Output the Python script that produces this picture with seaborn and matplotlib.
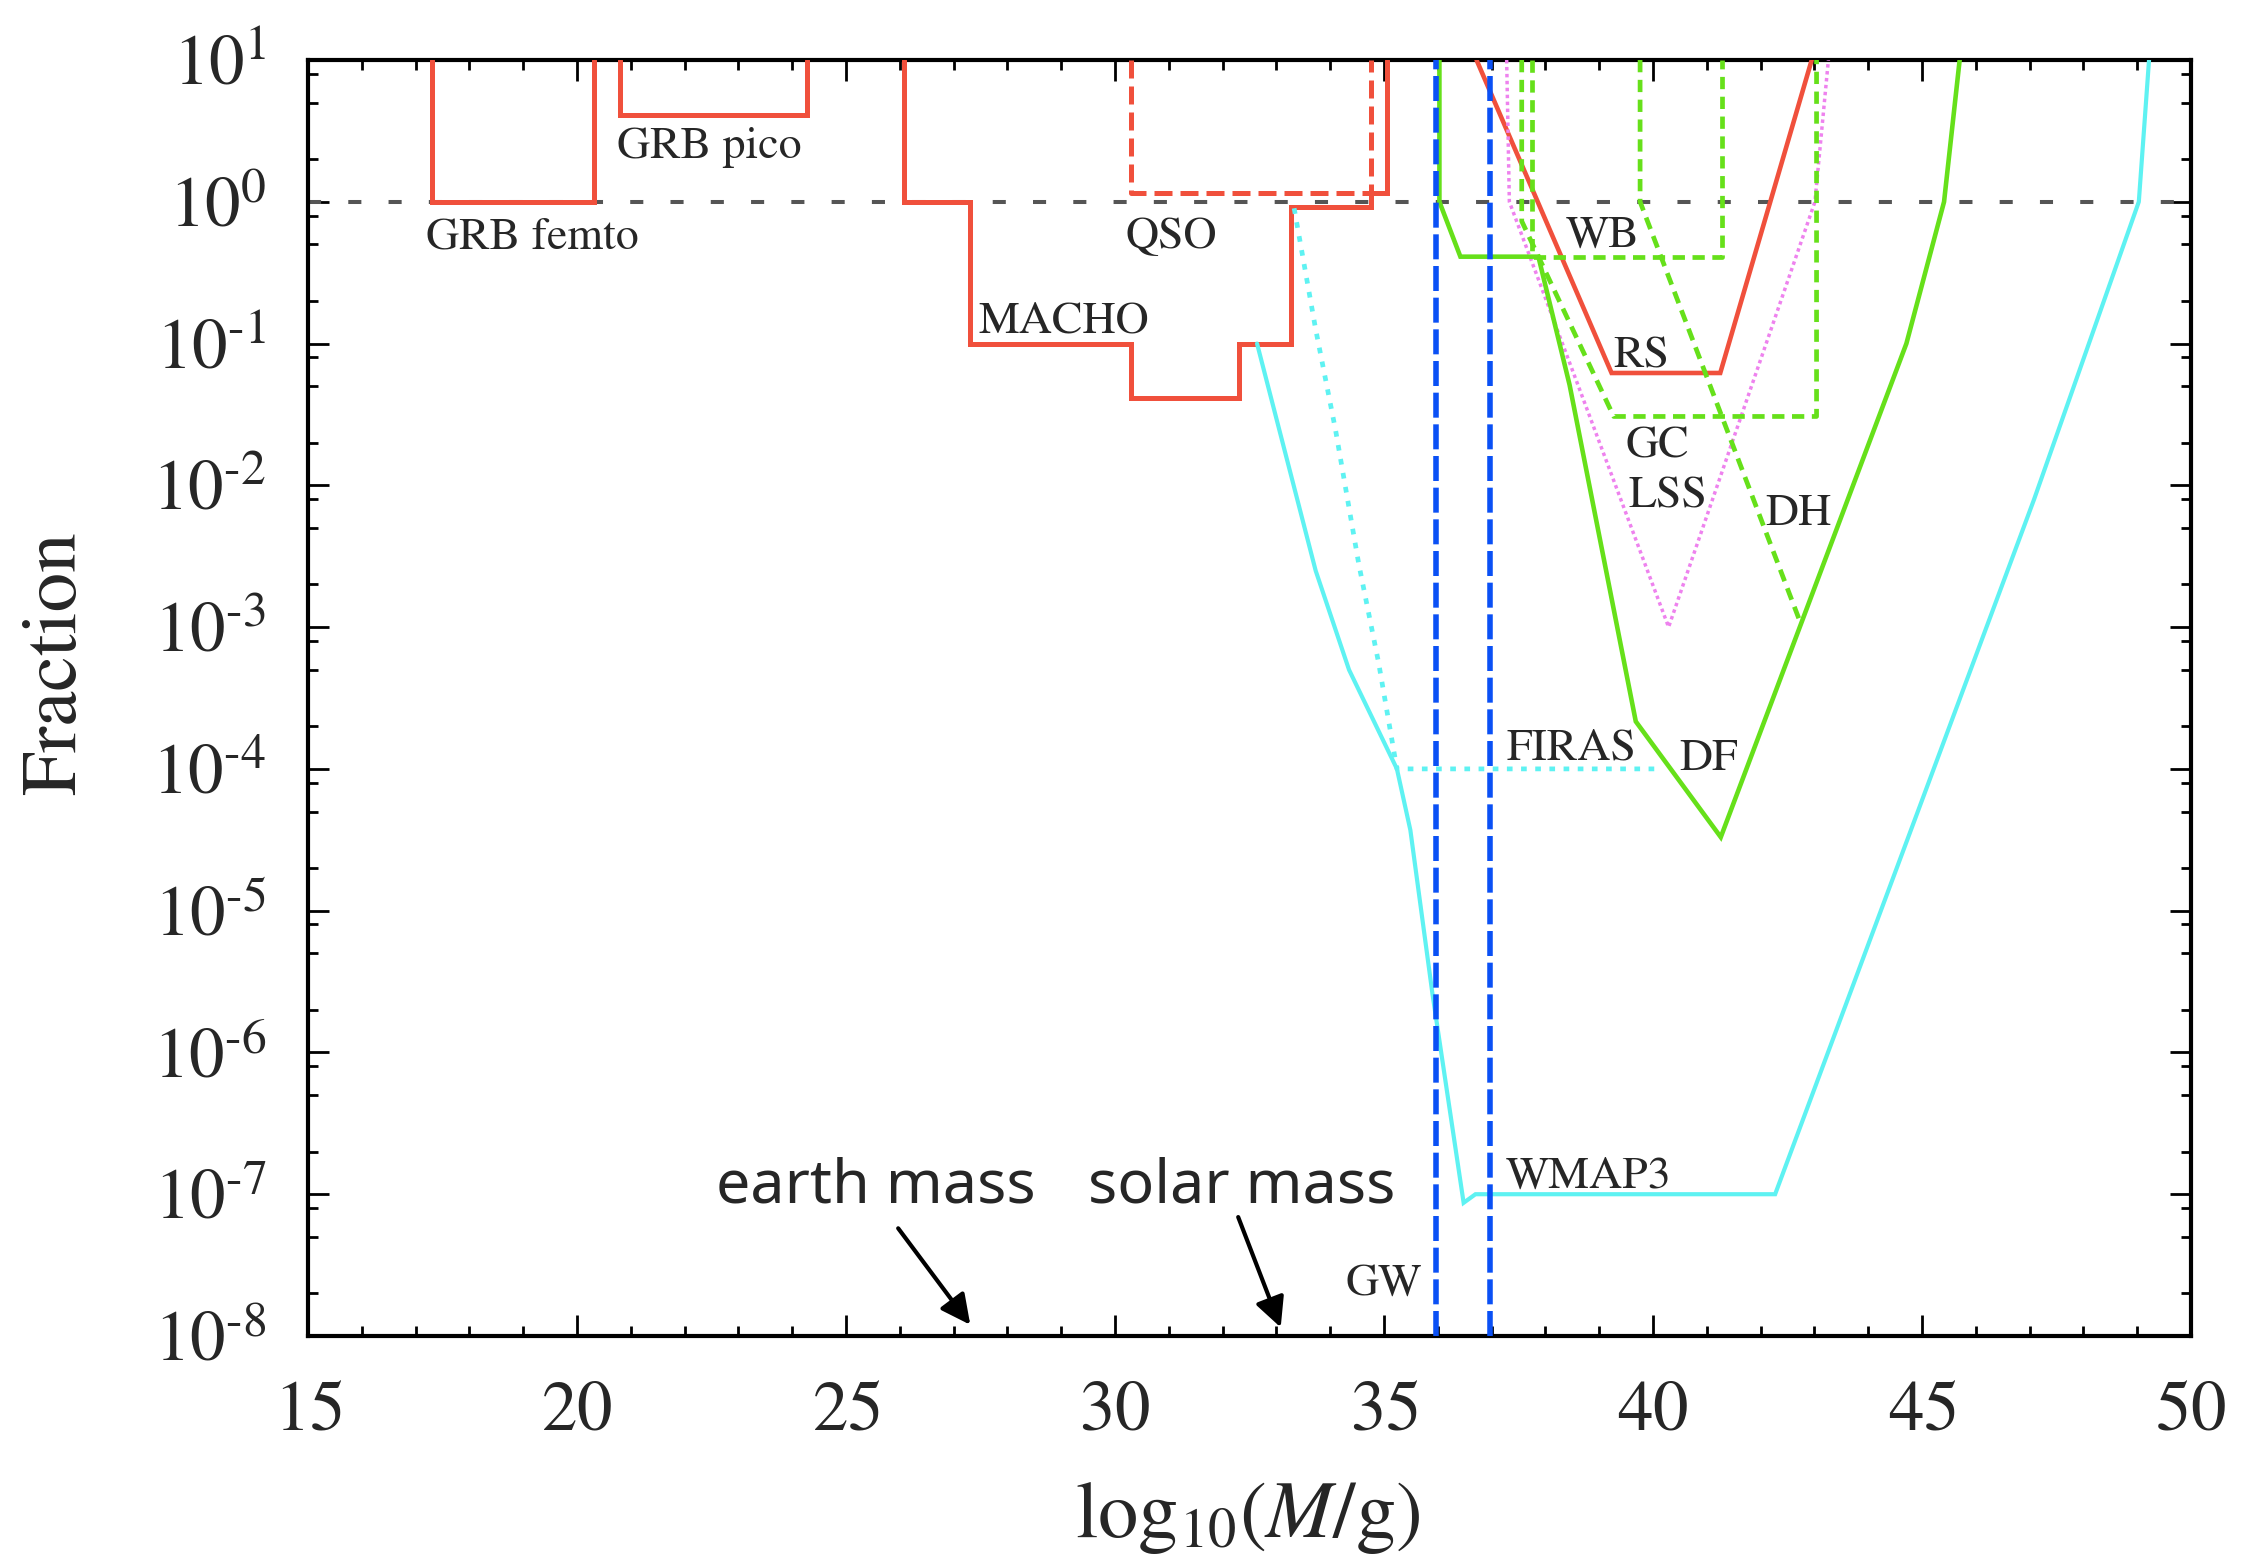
import matplotlib
matplotlib.use("Agg")
import matplotlib.pyplot as plt
from matplotlib.ticker import MultipleLocator, LogLocator, FixedLocator, NullFormatter
import seaborn as sns

# ---- constraint curves: log10(M/g) vs. fraction ----
grb_femto_m = [17.30, 17.30, 20.31, 20.31]
grb_femto_f = [10, 1.0, 1.0, 10]

grb_pico_m = [20.80, 20.80, 24.28, 24.28]
grb_pico_f = [10, 4.1, 4.1, 10]

macho_m = [26.07, 26.07, 27.30, 27.30, 30.29, 30.29, 32.30, 32.30,
           33.28, 33.28, 34.75, 34.75, 35.06, 35.06]
macho_f = [10, 1.0, 1.0, 0.1, 0.1, 0.041, 0.041, 0.1,
           0.1, 0.92, 0.92, 1.15, 1.15, 10]

qso_m = [30.29, 30.29, 34.75, 34.75]
qso_f = [10, 1.15, 1.15, 10]

rs_m = [36.72, 39.23, 41.25, 42.95]
rs_f = [10, 0.062, 0.062, 10]

df_m = [36.03, 36.03, 36.42, 37.87, 38.45, 39.68, 41.26, 44.71, 45.41, 45.70]
df_f = [10, 1.0, 0.41, 0.41, 0.051, 2.16e-4, 3.3e-5, 0.1, 1.0, 10]

wb_m = [37.75, 37.75, 41.28, 41.28]
wb_f = [10, 0.41, 0.41, 10]

gc_m = [37.56, 37.56, 39.27, 43.04, 43.04]
gc_f = [10, 0.73, 0.0306, 0.0306, 10]

dh_m = [39.76, 39.76, 42.73]
dh_f = [10, 1.0, 1.1e-3]

lss_m = [37.28, 37.33, 40.29, 43.01, 43.26]
lss_f = [10, 1.0, 1.0e-3, 1.0, 10]

wmap3_m = [32.64, 33.73, 34.35, 35.24, 35.49, 35.90, 36.48, 36.70,
           42.27, 45.00, 47.08, 49.03, 49.22]
wmap3_f = [0.1, 2.5e-3, 5.0e-4, 1.0e-4, 3.7e-5, 2.6e-6, 8.7e-8, 1.0e-7,
           1.0e-7, 6.0e-5, 7.9e-3, 1.0, 10]

firas_m = [33.33, 33.73, 34.10, 34.53, 34.90, 35.24, 40.10]
firas_f = [0.9, 0.126, 0.0245, 2.8e-3, 5.6e-4, 1.0e-4, 1.0e-4]

gw_m = [35.97, 36.97]
gw_f = [1e-8, 10]

x_ticks = [15, 20, 25, 30, 35, 40, 45, 50]
y_exponents = [-8, -7, -6, -5, -4, -3, -2, -1, 0, 1]

RED = "#f0503c"
GREEN = "#66e01a"
CYAN = "#5ef2f2"
MAGENTA = "#ee82ee"
BLUE = "#0a50f5"

sns.set_style("ticks")
plt.rcParams["mathtext.fontset"] = "stix"
plt.rcParams["font.family"] = ["STIXGeneral", "DejaVu Sans"]

fig = plt.figure(figsize=(22.49, 15.60), dpi=100)
ax = fig.add_axes([0.13695, 0.14359, 0.83726, 0.81795])
ax.set_yscale("log")
ax.set_xlim(15, 50)
ax.set_ylim(1e-8, 10)

ax.axhline(1.0, color="#555555", lw=2.9, linestyle=(0, (3.25, 6.75)),
           dash_capstyle="butt", zorder=1)


def draw(m, f, color, lw, ls="-"):
    sns.lineplot(x=m, y=f, ax=ax, color=color, lw=lw, linestyle=ls,
                 sort=False, estimator=None, legend=False, zorder=3)
    line = ax.lines[-1]
    line.set_dash_capstyle("butt")
    line.set_solid_joinstyle("miter")


draw(grb_femto_m, grb_femto_f, RED, 3.6)
draw(grb_pico_m, grb_pico_f, RED, 3.6)
draw(macho_m, macho_f, RED, 3.6)
draw(qso_m, qso_f, RED, 3.6, (0, (3.6, 1.6)))
draw(rs_m, rs_f, RED, 3.3)

draw(firas_m, firas_f, CYAN, 3.4, (0, (1.2, 1.8)))
draw(wmap3_m, wmap3_f, CYAN, 3.0)

draw(lss_m, lss_f, MAGENTA, 2.5, (0, (1.0, 1.0)))

draw(wb_m, wb_f, GREEN, 3.4, (0, (2.6, 1.6)))
draw(gc_m, gc_f, GREEN, 3.4, (0, (2.6, 1.6)))
draw(dh_m, dh_f, GREEN, 3.4, (0, (2.6, 1.6)))
draw(df_m, df_f, GREEN, 3.3)

for xm in gw_m:
    draw([xm, xm], gw_f, BLUE, 4.0, (0, (4.5, 1.2)))

# ---- axes styling ----
for sp in ax.spines.values():
    sp.set_linewidth(3.0)
    sp.set_color("black")
    sp.set_visible(True)

ax.xaxis.set_major_locator(FixedLocator(x_ticks))
ax.xaxis.set_minor_locator(MultipleLocator(1))
ax.set_xticklabels([f"${v}$" for v in x_ticks])

ax.yaxis.set_major_locator(FixedLocator([10.0 ** e for e in y_exponents]))
ax.yaxis.set_minor_locator(LogLocator(base=10, subs=(2, 5, 8), numticks=30))
ax.yaxis.set_minor_formatter(NullFormatter())
ax.set_yticklabels([r"$10^{\text{-}%d}$" % -e if e < 0 else r"$10^{%d}$" % e
                    for e in y_exponents])

ax.tick_params(which="both", direction="in", top=True, right=True,
               width=2.0, color="black")
ax.tick_params(which="major", length=15)
ax.tick_params(which="minor", length=7)
ax.tick_params(axis="x", which="major", pad=32, labelsize=51)
ax.tick_params(axis="y", which="major", pad=30, labelsize=51)

fig.text(0.0253, 0.575, "Fraction", rotation=90, ha="center", va="center",
         fontsize=57)
fig.text(0.555, 0.0147, r"$\mathrm{log}_{10}(M/\mathrm{g})$", ha="center",
         va="baseline", fontsize=58)

# ---- curve labels ----
labels = [
    ("GRB femto", 17.19, 0.472),
    ("GRB pico", 20.74, 2.04),
    ("QSO", 30.20, 0.472),
    ("MACHO", 27.47, 0.119),
    ("WB", 38.37, 0.48),
    ("RS", 39.27, 0.0673),
    ("GC", 39.48, 0.0156),
    ("LSS", 39.55, 6.93e-3),
    ("DH", 42.08, 5.25e-3),
    ("FIRAS", 37.27, 1.16e-4),
    ("DF", 40.49, 9.8e-5),
    ("WMAP3", 37.26, 1.11e-7),
    ("GW", 34.29, 1.95e-8),
]
for txt, lx, ly in labels:
    ax.text(lx, ly, txt, fontsize=33, ha="left", va="baseline", zorder=5)

ax.text(22.59, 8.7e-8, "earth mass", fontsize=44, family=["Noto Sans", "DejaVu Sans"],
        ha="left", va="baseline")
ax.text(29.50, 8.7e-8, "solar mass", fontsize=44, family=["Noto Sans", "DejaVu Sans"],
        ha="left", va="baseline")

arrow_kw = dict(arrowstyle="-|>", color="black", lw=3.0, mutation_scale=45,
                shrinkA=0, shrinkB=0)
ax.annotate("", xy=(27.31, 1.2e-8), xytext=(25.97, 5.75e-8), arrowprops=arrow_kw)
ax.annotate("", xy=(33.08, 1.15e-8), xytext=(32.29, 6.9e-8), arrowprops=arrow_kw)

fig.savefig("out.png", dpi=100)
